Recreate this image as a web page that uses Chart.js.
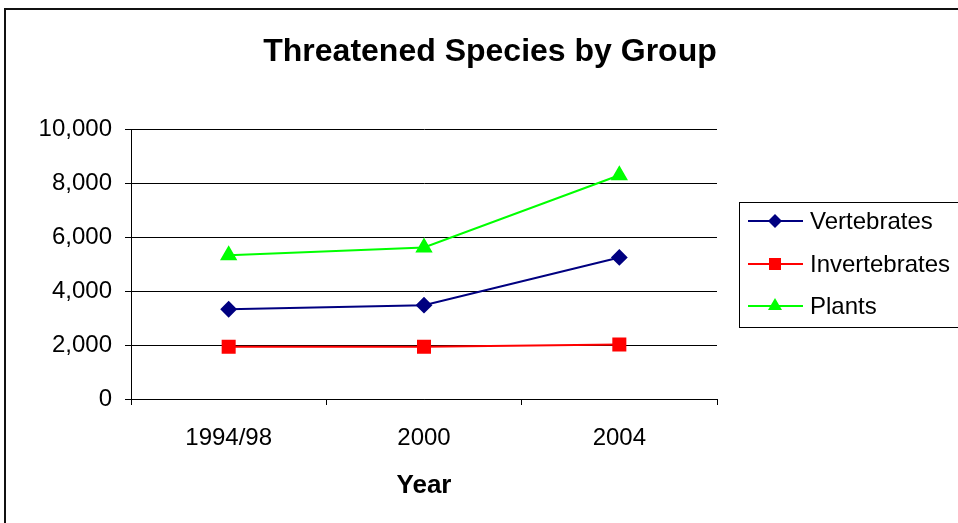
<!DOCTYPE html>
<html lang="en">
<head>
<meta charset="UTF-8">
<title>Threatened Species by Group</title>
<script src="https://cdn.jsdelivr.net/npm/chart.js"></script>
<style>
html,body{
  margin:0;
  background:white;
  overflow:hidden;
}
.frame{
  position:absolute;
  left:4px;
  top:8px;
  width:990px;
  height:560px;
  border:2px solid #111;
}
canvas{
  position:absolute;
  left:0;
  top:0;
}
</style>
</head>
<body>

<div class="frame"></div>
<canvas id="chart" width="980" height="523"></canvas>

<script>
// data
const years = ["1994/98", "2000", "2004"];
const vertebrates = [3330, 3480, 5250];
const invertebrates = [1940, 1940, 2020];
const plants = [5330, 5620, 8300];

const FONT = "'Liberation Sans', Arial, sans-serif";

// legend box like the excel one, drawn after the chart
const boxLegend = {
  id: "boxLegend",
  afterDraw(chart){
    const ctx = chart.ctx;
    ctx.save();
    ctx.strokeStyle = "#000";
    ctx.lineWidth = 1;
    ctx.strokeRect(739.5, 202.5, 260, 125);
    const rows = [221, 264, 306];
    chart.data.datasets.forEach((ds, i)=>{
      const y = rows[i];
      ctx.strokeStyle = ds.borderColor;
      ctx.lineWidth = 2;
      ctx.beginPath();
      ctx.moveTo(748, y);
      ctx.lineTo(803, y);
      ctx.stroke();
      ctx.fillStyle = ds.borderColor;
      ctx.beginPath();
      const cx = 775;
      if(ds.pointStyle === "rectRot"){
        ctx.moveTo(cx, y-7); ctx.lineTo(cx+7, y); ctx.lineTo(cx, y+7); ctx.lineTo(cx-7, y);
      } else if(ds.pointStyle === "rect"){
        ctx.rect(cx-6, y-6, 12, 12);
      } else {
        ctx.moveTo(cx, y-8); ctx.lineTo(cx+7, y+4); ctx.lineTo(cx-7, y+4);
      }
      ctx.closePath();
      ctx.fill();
      ctx.fillStyle = "#000";
      ctx.font = "24px " + FONT;
      ctx.textBaseline = "middle";
      ctx.fillText(ds.label, 810, y + 1);
    });
    ctx.restore();
  }
};

new Chart(document.getElementById("chart"), {
  type: "line",
  data: {
    labels: years,
    datasets: [
      {
        label: "Vertebrates",
        data: vertebrates,
        borderColor: "#000080",
        backgroundColor: "#000080",
        pointStyle: "rectRot",
        pointRadius: 7,
        borderWidth: 2
      },
      {
        label: "Invertebrates",
        data: invertebrates,
        borderColor: "#ff0000",
        backgroundColor: "#ff0000",
        pointStyle: "rect",
        pointRadius: 8.5,
        borderWidth: 2
      },
      {
        label: "Plants",
        data: plants,
        borderColor: "#00ff00",
        backgroundColor: "#00ff00",
        pointStyle: "triangle",
        pointRadius: 8,
        borderWidth: 2
      }
    ]
  },
  options: {
    responsive: false,
    animation: false,
    plugins: {
      legend: { display: false },
      tooltip: { enabled: false },
      title: {
        display: true,
        text: "Threatened Species by Group",
        color: "#000",
        font: { family: FONT, size: 32, weight: "bold", lineHeight: 1.2 },
        padding: { top: 33, bottom: 58 }
      }
    },
    scales: {
      x: {
        offset: true,
        afterFit: s => { s.height = 124; },
        grid: {
          display: true,
          offset: true,
          drawOnChartArea: false,
          color: "#000",
          tickLength: 6
        },
        border: { color: "#000", width: 1 },
        ticks: { color: "#000", padding: 19, font: { family: FONT, size: 24 } },
        title: {
          display: true,
          text: "Year",
          color: "#000",
          font: { family: FONT, size: 26, weight: "bold", lineHeight: 1.2 },
          padding: { top: 0, bottom: 22 }
        }
      },
      y: {
        min: 0,
        max: 10000,
        afterFit: s => { s.width = 131; },
        grid: { color: "#000", tickLength: 6 },
        border: { color: "#000", width: 1 },
        ticks: {
          stepSize: 2000,
          color: "#000",
          padding: 13,
          font: { family: FONT, size: 24 },
          callback: v => v.toLocaleString("en-US")
        }
      },
      // empty scale on the right, keeps room for the legend box
      side: {
        position: "right",
        afterFit: s => { s.width = 263; },
        grid: { display: false },
        border: { display: false },
        ticks: { display: false }
      }
    }
  },
  plugins: [boxLegend]
});
</script>

</body>
</html>
